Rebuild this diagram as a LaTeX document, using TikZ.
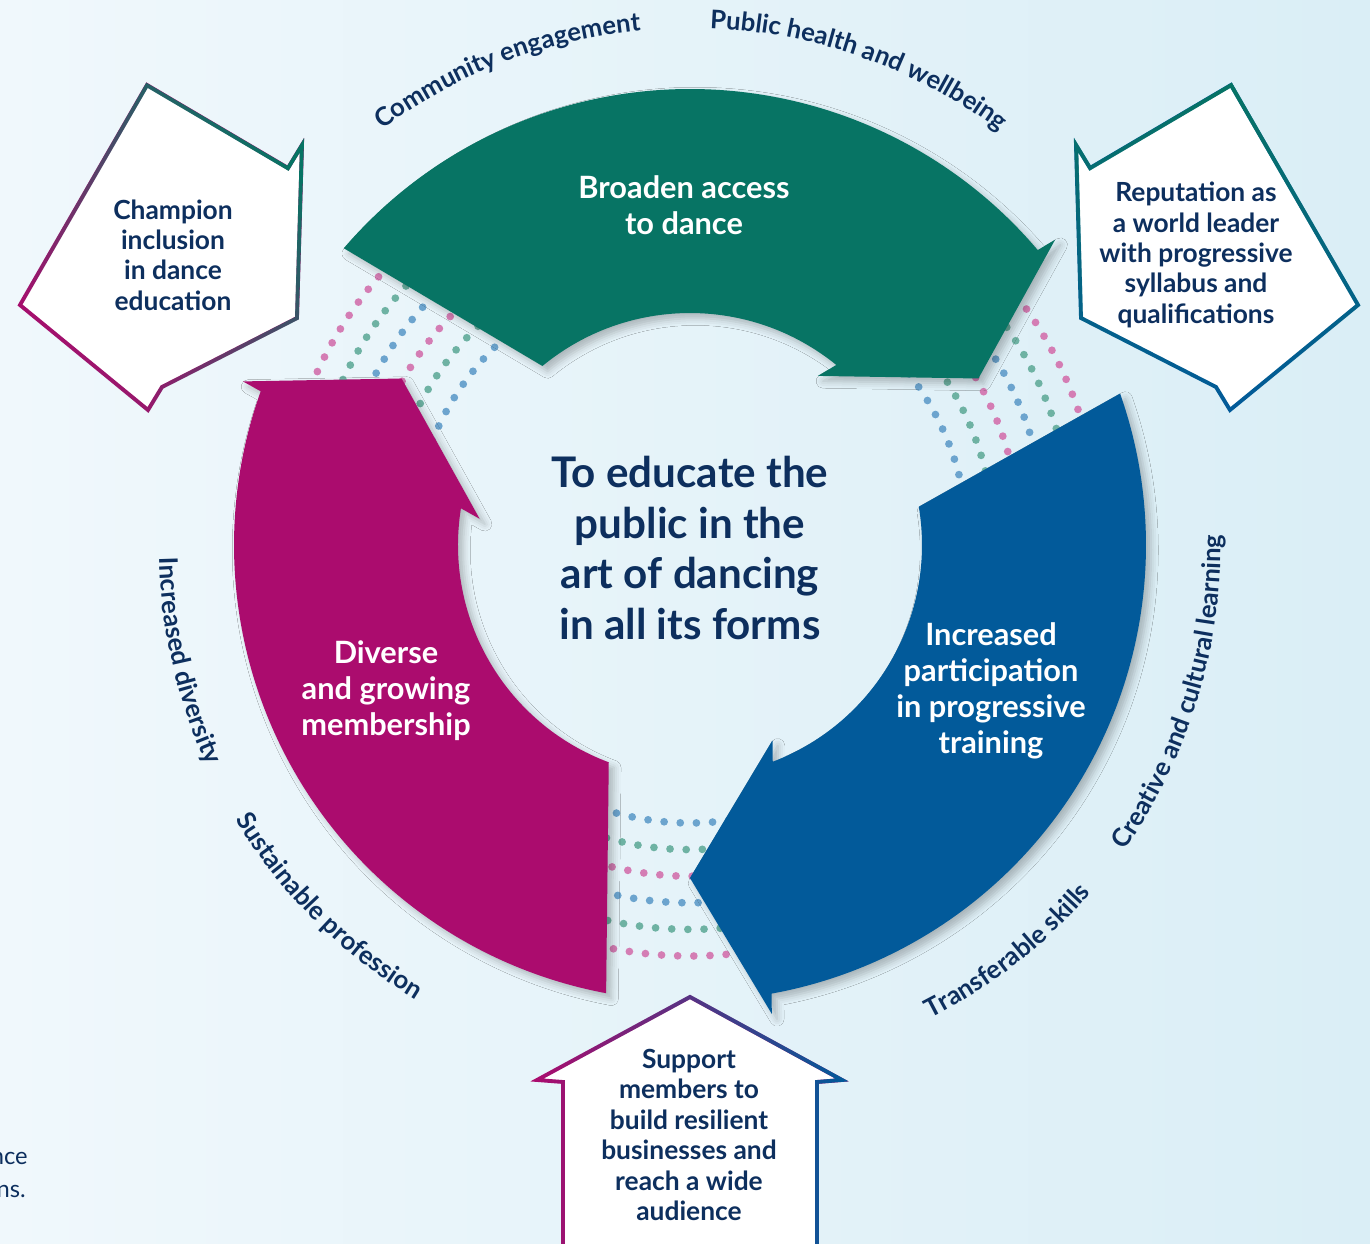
\documentclass[tikz,border=0pt]{standalone}
\usepackage{fontspec}
\setmainfont{Lato}
\usetikzlibrary{shadows.blur, fadings, decorations.text}

\definecolor{bgleft}{RGB}{240,248,252}
\definecolor{bgright}{RGB}{218,238,246}
\definecolor{navy}{RGB}{13,47,94}
\definecolor{arrowgreen}{RGB}{7,116,100}
\definecolor{arrowblue}{RGB}{2,90,154}
\definecolor{arrowpink}{RGB}{171,12,110}
\definecolor{dotpink}{RGB}{212,125,180}
\definecolor{dotgreen}{RGB}{110,178,163}
\definecolor{dotblue}{RGB}{108,164,206}

\tikzfading[name=faderight, left color=transparent!100, right color=transparent!0]

\tikzstyle{ringarrow} = [blur shadow={shadow xshift=3pt, 
shadow yshift=-3pt, 
shadow blur radius=4pt, 
shadow opacity=25}]
\tikzstyle{dots} = [line width=4.4pt, 
line cap=round, 
dash pattern=on 0pt off 9.2pt]
\tikzstyle{aim} = [line width=2.2pt, 
line join=miter]
\tikzstyle{aimtext} = [align=center, 
text=navy, 
font=\fontsize{15}{17.3}\selectfont\bfseries]
\tikzstyle{arrowtext} = [align=center, 
text=white, 
font=\fontsize{17.5}{20.5}\selectfont\bfseries]
\tikzstyle{purpose} = [align=center, 
text=navy, 
font=\fontsize{24}{28.9}\selectfont\bfseries]
\tikzstyle{benefit} = [decorate, 
decoration={text along path, text align=center, text color=navy}]

\newcommand{\benefitfont}{\fontsize{14.6}{16}\selectfont\bfseries}

\begin{document}
\begin{tikzpicture}[x=0.02cm, y=0.02cm]
\useasboundingbox (-690,-699) rectangle (680,545);
\shade[left color=bgleft, right color=bgright] (-690,-699) rectangle (680,545);

% dotted links in the gaps of the ring
\foreach \rot in {0,-120,-240}
  \foreach \r/\c in {411/dotpink, 384.4/dotgreen, 357.8/dotblue, 331.2/dotpink, 304.6/dotgreen, 278/dotblue}
    \draw[dots, \c, rotate=\rot] (128:\r) arc[start angle=128, end angle=165, radius=\r];

% the three ring arrows
\foreach \rot/\c in {0/arrowgreen, -120/arrowblue, -240/arrowpink}
  \fill[ringarrow, \c, rotate=\rot] (139.4:456) arc[start angle=139.4, end angle=40.3, radius=456]
    -- (39.9:476) -- (30:333) -- (52.9:212) -- (50.9:232)
    arc[start angle=50.9, end angle=129.5, radius=232] -- cycle;

\node (purpose) [purpose] at (0,-3) {To educate the\\public in the\\art of dancing\\in all its forms};
\node (access) [arrowtext] at (-6,340) {Broaden access\\to dance};
\node (training) [arrowtext] at (301,-146) {Increased\\participation\\in progressive\\training};
\node (membership) [arrowtext] at (-304,-146) {Diverse\\and growing\\membership};

% outlined boxes
\fill[white] (-543,460) -- (-402,377) -- (-388,400) -- (-393,227) -- (-528,158) -- (-542,135) -- (-670,240) -- cycle;
\draw[aim, arrowpink] (-543,460) -- (-402,377) -- (-388,400) -- (-393,227) -- (-528,158) -- (-542,135) -- (-670,240) -- cycle;
\draw[aim, arrowgreen, path fading=faderight, fading angle=45] (-543,460) -- (-402,377) -- (-388,400) -- (-393,227) -- (-528,158) -- (-542,135) -- (-670,240) -- cycle;

\fill[white] (541,460) -- (400,377) -- (386,400) -- (391,227) -- (526,158) -- (540,135) -- (668,240) -- cycle;
\draw[aim, arrowblue] (541,460) -- (400,377) -- (386,400) -- (391,227) -- (526,158) -- (540,135) -- (668,240) -- cycle;
\draw[aim, arrowgreen, path fading=faderight, fading angle=90] (541,460) -- (400,377) -- (386,400) -- (391,227) -- (526,158) -- (540,135) -- (668,240) -- cycle;

\fill[white] (0,-452) -- (152,-535) -- (127,-537) -- (127,-705) -- (-127,-705) -- (-127,-537) -- (-153,-535) -- cycle;
\draw[aim, arrowpink] (0,-452) -- (152,-535) -- (127,-537) -- (127,-705) -- (-127,-705) -- (-127,-537) -- (-153,-535) -- cycle;
\draw[aim, arrowblue, path fading=faderight] (0,-452) -- (152,-535) -- (127,-537) -- (127,-705) -- (-127,-705) -- (-127,-537) -- (-153,-535) -- cycle;

\node (inclusion) [aimtext] at (-517,290) {Champion\\inclusion\\in dance\\education};
\node (reputation) [aimtext] at (506,290) {Reputation as\\a world leader\\with progressive\\syllabus and\\qualifications};
\node (support) [aimtext] at (-1,-590) {Support\\members to\\build resilient\\businesses and\\reach a wide\\audience};

% labels round the ring
\path[benefit, decoration={text={|\benefitfont|Community engagement}}] (136:517) arc[start angle=136, end angle=86, radius=517];
\path[benefit, decoration={text={|\benefitfont|Public health and wellbeing}}] (100:517) arc[start angle=100, end angle=41, radius=517];
\path[benefit, decoration={text={|\benefitfont|Creative and cultural learning}}] (-47:531) arc[start angle=-47, end angle=13, radius=531];
\path[benefit, decoration={text={|\benefitfont|Transferable skills}}] (-77:531) arc[start angle=-77, end angle=-27, radius=531];
\path[benefit, decoration={text={|\benefitfont|Sustainable profession}}] (195:531) arc[start angle=195, end angle=255, radius=531];
\path[benefit, decoration={text={|\benefitfont|Increased diversity}}] (170:531) arc[start angle=170, end angle=216, radius=531];

% cut text at the left edge
\begin{scope}
\clip (-690,-699) rectangle (680,545);
\node (danceend) [anchor=base east, inner sep=0pt, text=navy, font=\fontsize{13.5}{16}\selectfont] at (-662,-619) {nce};
\node (formsend) [anchor=base east, inner sep=0pt, text=navy, font=\fontsize{13.5}{16}\selectfont] at (-664,-652) {ns.};
\end{scope}
\end{tikzpicture}
\end{document}
